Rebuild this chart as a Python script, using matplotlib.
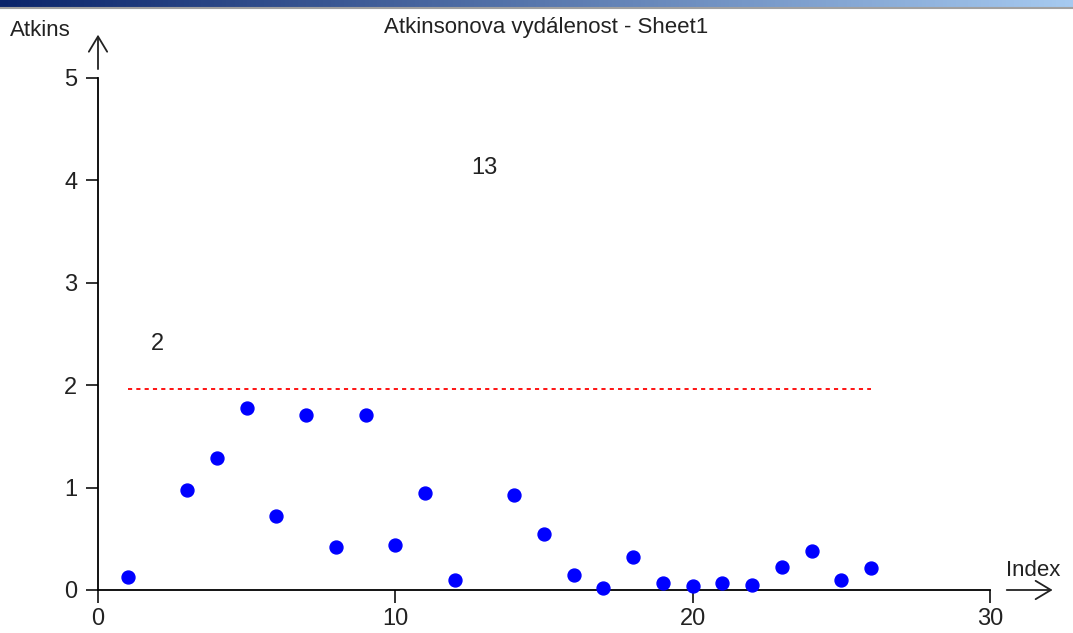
import numpy as np
import matplotlib
matplotlib.use("Agg")
import matplotlib.pyplot as plt

plt.rcParams['font.family'] = ['Liberation Sans', 'DejaVu Sans']

# data
idx = [1, 3, 4, 5, 6, 7, 8, 9, 10, 11, 12, 14, 15, 16, 17, 18, 19, 20, 21, 22, 23, 24, 25, 26]
atkins = [0.13, 0.98, 1.29, 1.78, 0.72, 1.71, 0.42, 1.71, 0.44, 0.95, 0.10, 0.93,
          0.55, 0.15, 0.02, 0.32, 0.07, 0.04, 0.07, 0.05, 0.22, 0.38, 0.10, 0.21]
outlier_idx = [2, 13]
outlier_val = [2.40, 4.12]
limit = 1.96
limit_range = [1, 26]

W, H = 1073, 633
fig = plt.figure(figsize=(W / 100, H / 100), dpi=100)

# window title bar strip at the top
bar = fig.add_axes([0, 1 - 7 / H, 1, 7 / H])
grad = np.linspace(0, 1, 256)[None, :, None]
c0 = np.array([10, 36, 106]) / 255
c1 = np.array([166, 202, 240]) / 255
bar.imshow(c0 + (c1 - c0) * grad, aspect='auto', extent=[0, 1, 0, 1])
bar.axis('off')
fig.add_artist(plt.Line2D([0, 1], [1 - 8 / H, 1 - 8 / H], transform=fig.transFigure,
                          color='#a0a0a0', lw=1.5))

ax = fig.add_axes([98 / W, (H - 590) / H, 892 / W, 512 / H])
ax.set_xlim(0, 30)
ax.set_ylim(0, 5)
for s in ['top', 'right']:
    ax.spines[s].set_visible(False)
for s in ['left', 'bottom']:
    ax.spines[s].set_linewidth(1.3)
ax.set_xticks([0, 10, 20, 30])
ax.set_yticks([0, 1, 2, 3, 4, 5])
ax.tick_params(direction='out', length=9, width=1.3, labelsize=17, colors='#222222')
ax.tick_params(axis='y', pad=6)
ax.tick_params(axis='x', pad=4)

ax.plot(idx, atkins, 'o', color='#0000ff', markersize=9.3, clip_on=False, zorder=3)
ax.plot(limit_range, [limit, limit], color='#ff0000', lw=1.3, linestyle=(0, (2.3, 2.3)))
for i, v in zip(outlier_idx, outlier_val):
    ax.text(i, v, str(i), ha='center', va='center', fontsize=17, color='#222222')

# axis arrows
arrow = dict(arrowstyle='->, head_length=0.5, head_width=0.3', lw=1.3, color='#222222',
             mutation_scale=22)
ax.annotate('', xy=(0, 5.45), xytext=(0, 5.06), arrowprops=arrow, annotation_clip=False)
ax.annotate('', xy=(32.2, 0), xytext=(30.47, 0), arrowprops=arrow, annotation_clip=False)

fig.text(546 / W, 1 - 27 / H, 'Atkinsonova vydálenost - Sheet1', ha='center', va='center',
         fontsize=16, color='#222222')
fig.text(10 / W, 1 - 30 / H, 'Atkins', ha='left', va='center', fontsize=16, color='#222222')
fig.text(1033 / W, 1 - 570 / H, 'Index', ha='center', va='center', fontsize=16, color='#222222')

fig.savefig('out.png', dpi=100)
